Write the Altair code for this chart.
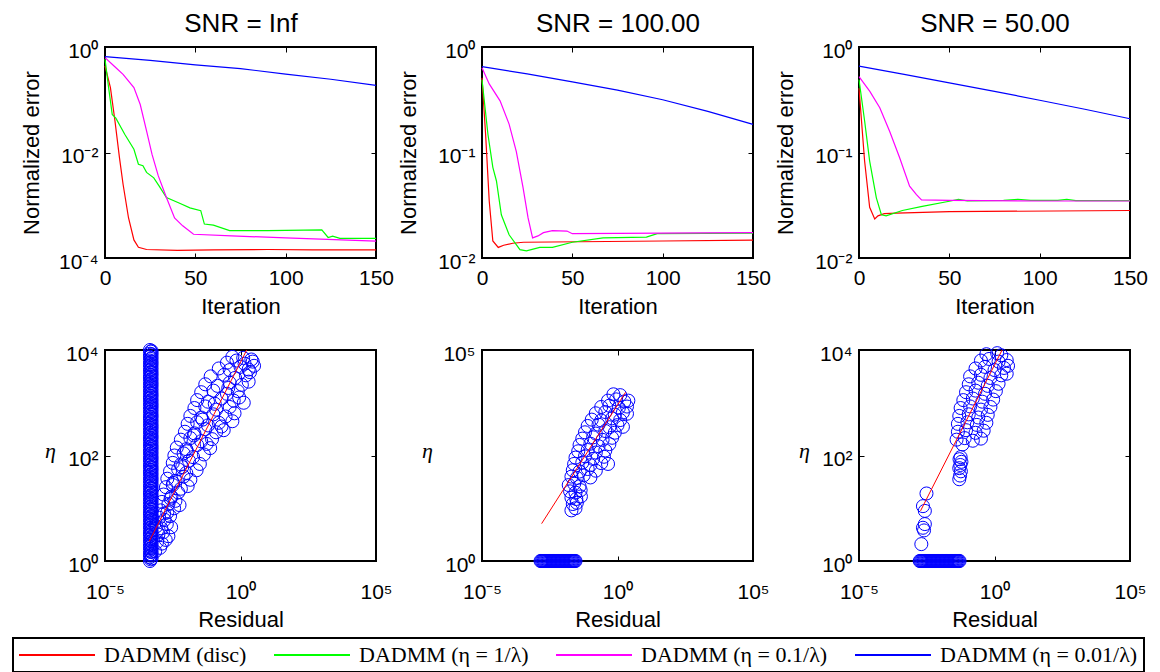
import altair as alt
import pandas as pd

SANS = "Liberation Sans"
SERIF = "Liberation Serif"

METHODS = ["DADMM (disc)", "DADMM (η = 1/λ)", "DADMM (η = 0.1/λ)", "DADMM (η = 0.01/λ)"]
COLORS = ["#ff0000", "#00ff00", "#ff00ff", "#0000ff"]
PANEL_TITLES = ["SNR = Inf", "SNR = 100.00", "SNR = 50.00"]

# ---------------- top row: normalized error vs iteration ----------------
# SNR = Inf
inf_disc_it = [0, 3, 5.5, 8, 10, 13, 16, 18.5, 23, 40, 60, 90, 115, 150]
inf_disc_err = [0.44, 0.17, 0.04, 0.008, 0.0025, 5.8e-4, 2.2e-4, 1.6e-4, 1.45e-4, 1.4e-4, 1.42e-4, 1.45e-4, 1.42e-4, 1.42e-4]
inf_eta1_it = [0, 2, 4, 6, 11, 16, 18.5, 21, 23, 27, 30, 34, 41, 47, 53, 55, 60, 69, 90, 120, 123.5, 126, 130, 150]
inf_eta1_err = [0.59, 0.17, 0.0525, 0.0447, 0.0219, 0.0115, 0.006, 0.0056, 0.0042, 0.0033, 0.0023, 0.0014, 0.0011,
                8.9e-4, 7.9e-4, 4.4e-4, 4.2e-4, 3.3e-4, 3.3e-4, 3.4e-4, 2.45e-4, 2.6e-4, 2.35e-4, 2.35e-4]
inf_eta01_it = [0, 5, 10, 16, 19.5, 23, 26, 29.5, 34, 38.5, 43, 49, 70, 100, 150]
inf_eta01_err = [0.63, 0.437, 0.302, 0.17, 0.0813, 0.0257, 0.0093, 0.0036, 0.0014, 5.75e-4, 4.07e-4, 2.82e-4,
                 2.63e-4, 2.4e-4, 2.09e-4]
inf_eta001_it = [0, 25, 50, 75, 100, 125, 150]
inf_eta001_err = [0.656, 0.56, 0.46, 0.39, 0.305, 0.245, 0.1875]

# SNR = 100
s100_disc_it = [0, 2, 4, 6, 9, 12, 17, 23, 100, 150]
s100_disc_err = [0.51, 0.148, 0.0347, 0.0145, 0.0126, 0.0132, 0.0138, 0.0141, 0.0145, 0.0148]
s100_eta1_it = [0, 3.3, 6, 8, 10.7, 15, 21, 24.6, 32, 39, 50, 67, 91, 97, 150]
s100_eta1_err = [0.49, 0.148, 0.0724, 0.0537, 0.0257, 0.0166, 0.012, 0.0117, 0.0126, 0.0126, 0.0141, 0.0155,
                 0.0158, 0.017, 0.0172]
s100_eta01_it = [0, 4, 10, 15, 19, 22.7, 25.5, 28, 31, 34, 39, 47, 50, 100, 150]
s100_eta01_err = [0.637, 0.447, 0.309, 0.186, 0.102, 0.0468, 0.024, 0.0155, 0.0162, 0.0174, 0.0182, 0.018,
                  0.017, 0.0172, 0.0174]
s100_eta001_it = [0, 25, 50, 75, 100, 125, 150]
s100_eta001_err = [0.652, 0.556, 0.468, 0.39, 0.316, 0.245, 0.185]

# SNR = 50
s50_disc_it = [0, 3.1, 5.9, 8.7, 10.5, 14, 20.7, 50, 150]
s50_disc_err = [0.407, 0.083, 0.0302, 0.0234, 0.0251, 0.0263, 0.0266, 0.0275, 0.0282]
s50_eta1_it = [0, 3.1, 5.9, 9.6, 12.4, 15, 24, 35, 50, 55, 60, 80, 88, 95, 110, 115, 120, 150]
s50_eta1_err = [0.49, 0.2, 0.083, 0.0372, 0.0257, 0.0251, 0.0282, 0.0309, 0.0345, 0.036, 0.0348, 0.0352, 0.036,
                0.0351, 0.0352, 0.036, 0.035, 0.035]
s50_eta01_it = [0, 6, 11.5, 17, 22.5, 28, 31.8, 34.6, 50, 100, 150]
s50_eta01_err = [0.525, 0.38, 0.266, 0.158, 0.0891, 0.0479, 0.0398, 0.0355, 0.0351, 0.0347, 0.0347]
s50_eta001_it = [0, 25, 50, 75, 100, 125, 150]
s50_eta001_err = [0.66, 0.55, 0.457, 0.38, 0.313, 0.257, 0.209]

# ---------------- bottom row: eta vs residual (log10 exponents) ----------------
# SNR = Inf: dense vertical column + diagonal band
inf_col_res = [-3.34, -3.31, -3.28]
inf_colA_eta = [0.00, 0.07, 0.13, 0.20, 0.27, 0.33, 0.40, 0.47, 0.53, 0.60, 0.67, 0.73, 0.80, 0.87, 0.93, 1.00,
                1.07, 1.13, 1.20, 1.27, 1.33, 1.40, 1.47, 1.53, 1.60, 1.67, 1.73, 1.80, 1.87, 1.93, 2.00, 2.07,
                2.13, 2.20, 2.27, 2.33, 2.40, 2.47, 2.53, 2.60, 2.67, 2.73, 2.80, 2.87, 2.93, 3.00, 3.07, 3.13,
                3.20, 3.27, 3.33, 3.40, 3.47, 3.53, 3.60, 3.67, 3.73, 3.80, 3.87, 3.93, 4.00]
inf_colB_eta = [0.03, 0.10, 0.17, 0.23, 0.30, 0.37, 0.43, 0.50, 0.57, 0.63, 0.70, 0.77, 0.83, 0.90, 0.97, 1.03,
                1.10, 1.17, 1.23, 1.30, 1.37, 1.43, 1.50, 1.57, 1.63, 1.70, 1.77, 1.83, 1.90, 1.97, 2.03, 2.10,
                2.17, 2.23, 2.30, 2.37, 2.43, 2.50, 2.57, 2.63, 2.70, 2.77, 2.83, 2.90, 2.97, 3.03, 3.10, 3.17,
                3.23, 3.30, 3.37, 3.43, 3.50, 3.57, 3.63, 3.70, 3.77, 3.83, 3.90, 3.97]
inf_colC_eta = [0.05, 0.12, 0.18, 0.25, 0.32, 0.38, 0.45, 0.52, 0.58, 0.65, 0.72, 0.78, 0.85, 0.92, 0.98, 1.05,
                1.12, 1.18, 1.25, 1.32, 1.38, 1.45, 1.52, 1.58, 1.65, 1.72, 1.78, 1.85, 1.92, 1.98, 2.05, 2.12,
                2.18, 2.25, 2.32, 2.38, 2.45, 2.52, 2.58, 2.65, 2.72, 2.78, 2.85, 2.92, 2.98, 3.05, 3.12, 3.18,
                3.25, 3.32, 3.38, 3.45, 3.52, 3.58, 3.65, 3.72, 3.78, 3.85, 3.92, 3.98]
inf_band_res = [-3.15, -2.97, -3.08, -2.9, -2.76, -3.03, -2.86, -2.66, -3.1, -2.92, -2.72, -2.56, -3.0, -2.8, -2.6,
                -2.95, -2.7, -2.45, -2.9, -2.66, -2.4, -2.25, -2.84, -2.55, -2.3, -2.75, -2.5, -2.2, -1.95, -2.7,
                -2.4, -2.1, -1.85, -2.6, -2.3, -2.0, -1.62, -2.5, -2.2, -1.9, -1.5, -2.44, -2.1, -1.75, -1.35,
                -2.35, -2.0, -1.6, -1.12, -2.2, -1.85, -1.45, -1.05, -2.05, -1.7, -1.3, -0.9, -0.62, -1.95, -1.6,
                -1.2, -0.8, -1.85, -1.45, -1.0, -0.55, -0.22, -1.7, -1.3, -0.9, -0.4, -1.6, -1.2, -0.7, -0.25,
                -0.05, -1.45, -1.0, -0.5, -0.1, -1.3, -0.85, -0.4, 0.05, 0.3, -1.1, -0.6, -0.2, 0.2, -0.8, -0.4,
                0.0, 0.3, 0.5, -0.5, -0.15, 0.15, 0.45, -0.3, 0.1, 0.4,
                -2.82, -2.58, -2.48, -2.15, -1.98, -1.72, -1.4, -1.25, -0.95, -0.7, -0.45, -0.3, 0.12, 0.35]
inf_band_eta = [0.18, 0.25, 0.36, 0.33, 0.4, 0.5, 0.54, 0.47, 0.66, 0.62, 0.7, 0.64, 0.82, 0.78, 0.85,
                0.96, 0.92, 1.0, 1.12, 1.08, 1.14, 1.06, 1.26, 1.22, 1.3, 1.4, 1.44, 1.37, 1.42, 1.56,
                1.52, 1.6, 1.54, 1.7, 1.74, 1.67, 1.72, 1.86, 1.83, 1.9, 1.84, 2.0, 2.04, 1.97, 2.02,
                2.15, 2.12, 2.2, 2.14, 2.3, 2.33, 2.27, 2.31, 2.45, 2.42, 2.5, 2.44, 2.48, 2.6, 2.63,
                2.57, 2.62, 2.75, 2.72, 2.78, 2.74, 2.8, 2.9, 2.93, 2.87, 2.92, 3.05, 3.02, 3.08, 3.04,
                3.1, 3.2, 3.23, 3.17, 3.22, 3.35, 3.32, 3.38, 3.34, 3.4, 3.5, 3.53, 3.47, 3.52, 3.65, 3.62,
                3.68, 3.63, 3.7, 3.76, 3.8, 3.74, 3.78, 3.87, 3.85, 3.82,
                0.9, 1.18, 1.48, 1.78, 2.08, 2.38, 2.68, 2.22, 2.98, 2.55, 3.28, 2.65, 3.0, 3.58]
inf_fit_res = [-3.37, 0.23]
inf_fit_eta = [0.37, 4.0]

# SNR = 100: horizontal bar at eta = 1 + cluster
s100_bar_res = [-2.84, -2.81, -2.78, -2.75, -2.72, -2.69, -2.66, -2.63, -2.6, -2.57, -2.54, -2.51, -2.48, -2.45,
                -2.42, -2.39, -2.36, -2.33, -2.3, -2.27, -2.24, -2.21, -2.18, -2.15, -2.12, -2.09, -2.06, -2.03,
                -2.0, -1.97, -1.94, -1.91, -1.88, -1.85, -1.82, -1.79, -1.76, -1.73, -1.7, -1.67, -1.64, -1.61,
                -1.58, -1.55]
s100_cl_res = [-1.7, -1.55, -1.65, -1.5, -1.7, -1.52, -1.35, -1.75, -1.55, -1.36, -1.8, -1.6, -1.4, -1.7, -1.5,
               -1.25, -1.0, -1.65, -1.4, -1.1, -0.8, -1.6, -1.3, -1.0, -0.6, -0.35, -1.55, -1.2, -0.9, -0.5,
               -1.45, -1.1, -0.8, -0.45, -1.4, -1.0, -0.7, -0.3, -1.3, -0.9, -0.55, -0.2, -1.2, -0.8, -0.45,
               -0.1, -1.1, -0.7, -0.3, 0.0, 0.2, -0.95, -0.6, -0.2, 0.1, -0.8, -0.45, -0.1, 0.2, 0.35, -0.6,
               -0.3, 0.05, 0.35, -0.35, -0.05, 0.25, 0.4, -0.15, 0.1]
s100_cl_eta = [1.2, 1.25, 1.35, 1.38, 1.5, 1.47, 1.53, 1.65, 1.62, 1.68, 1.8, 1.83, 1.77, 2.0, 1.97,
               2.03, 1.98, 2.15, 2.12, 2.18, 2.14, 2.3, 2.33, 2.27, 2.32, 2.3, 2.45, 2.48, 2.42, 2.47,
               2.6, 2.63, 2.57, 2.62, 2.75, 2.78, 2.72, 2.77, 2.9, 2.93, 2.87, 2.92, 3.05, 3.02, 3.08,
               3.04, 3.2, 3.23, 3.17, 3.22, 3.18, 3.35, 3.33, 3.38, 3.34, 3.5, 3.53, 3.47, 3.52, 3.49, 3.65,
               3.68, 3.63, 3.66, 3.8, 3.83, 3.78, 3.8, 3.95, 3.93]
s100_fit_res = [-2.8, 0.3]
s100_fit_eta = [0.885, 4.0]

# SNR = 50: horizontal bar + sparse points + clusters
s50_bar_res = [-2.76, -2.73, -2.70, -2.67, -2.64, -2.61, -2.58, -2.55, -2.52, -2.49, -2.46, -2.43, -2.40, -2.37,
               -2.34, -2.31, -2.28, -2.25, -2.22, -2.19, -2.16, -2.13, -2.10, -2.07, -2.04, -2.01, -1.98, -1.95,
               -1.92, -1.89, -1.86, -1.83, -1.80, -1.77, -1.74, -1.71, -1.68, -1.65, -1.62, -1.59, -1.56, -1.53,
               -1.50, -1.47, -1.44, -1.41, -1.38, -1.35, -1.32, -1.29]
s50_cl_res = [-2.7, -2.64, -2.57, -2.6, -2.57, -2.64, -2.51,
              -1.3, -1.27, -1.24, -1.3, -1.26, -1.22, -1.29, -1.25, -1.18,
              -1.4, -1.1, -0.8, -0.5, -1.35, -1.05, -0.7, -0.4, -1.35, -1.0, -0.65, -0.3, -1.3, -0.95, -0.6,
              -0.25, -1.25, -0.9, -0.5, -0.15, -1.15, -0.8, -0.45, -0.05, -1.05, -0.7, -0.35, 0.05, -0.95,
              -0.6, -0.25, 0.15, -0.9, -0.5, -0.15, 0.25, 0.45, -0.7, -0.35, 0.0, 0.35, 0.5, -0.5, -0.2,
              0.15, 0.45, -0.3, 0.1, 0.25]
s50_cl_eta = [0.32, 0.63, 0.7, 0.58, 0.95, 1.04, 1.28,
              1.55, 1.62, 1.7, 1.76, 1.82, 1.88, 1.93, 1.97, 2.21,
              2.3, 2.33, 2.28, 2.32, 2.45, 2.48, 2.43, 2.47, 2.6, 2.63, 2.58, 2.62, 2.75, 2.78, 2.72,
              2.77, 2.9, 2.93, 2.87, 2.92, 3.05, 3.08, 3.02, 3.06, 3.2, 3.23, 3.17, 3.22, 3.35,
              3.38, 3.32, 3.36, 3.5, 3.53, 3.47, 3.52, 3.55, 3.65, 3.68, 3.62, 3.66, 3.7, 3.8, 3.83,
              3.78, 3.81, 3.92, 3.94, 3.9]
s50_fit_res = [-2.73, 0.28]
s50_fit_eta = [0.95, 4.0]

SUP = {"-": "⁻", "0": "⁰", "1": "¹", "2": "²", "3": "³", "4": "⁴", "5": "⁵"}


def pow10_labels(exps):
    e = "round(log(datum.value) / LN10)"
    expr = "''"
    for k in exps:
        s = "".join(SUP[c] for c in str(k))
        expr = f"({e} == {k} ? '10{s}' : {expr})"
    return expr


TICK = dict(offset=-5, tickSize=5, tickColor="black", tickWidth=1, domain=False, grid=False)


def axis_bottom(values, title, label_expr=None, label_pad=9, title_pad=8):
    kw = dict(orient="bottom", values=values, labelFont=SANS, labelFontSize=21, labelColor="black",
              labelPadding=label_pad, labelFlush=False, labelOverlap=False, title=title,
              titleFont=SANS, titleFontSize=22, titleFontWeight="normal", titleColor="black",
              titlePadding=title_pad, **TICK)
    if label_expr:
        kw["labelExpr"] = label_expr
    return alt.Axis(**kw)


def axis_left(values, exps, title, title_x, title_y, angle, font, style):
    return alt.Axis(orient="left", values=values, labelExpr=pow10_labels(exps), labelFont=SANS,
                    labelFontSize=21, labelColor="black", labelPadding=7, labelOffset=4, labelFlush=False,
                    labelOverlap=False, title=title, titleFont=font, titleFontSize=22,
                    titleFontWeight="normal", titleFontStyle=style, titleColor="black", titleAngle=angle,
                    titleAlign="center", titleBaseline="middle", titleX=title_x, titleY=title_y, **TICK)


def axis_mirror(orient, values):
    return alt.Axis(orient=orient, values=values, labels=False, **TICK)


def axis_top_title(values, text):
    # mirrored top ticks; the panel heading is carried as this axis' title
    return alt.Axis(orient="top", values=values, labels=False, title=text, titleFont=SANS, titleFontSize=26,
                    titleFontWeight="normal", titleColor="black", titleAngle=0, titleAlign="center",
                    titleBaseline="alphabetic", titleX=135.5, titleY=-21, **TICK)


LEGEND = alt.Legend(title=None, orient="none", legendX=-92, legendY=591, direction="horizontal",
                    symbolType="M-4,0H4", symbolSize=361, symbolStrokeWidth=2, symbolOffset=27,
                    labelOffset=36, labelFont=SERIF, labelFontSize=22, labelColor="black", labelLimit=400,
                    columnPadding=23, padding=6, strokeColor="black", fillColor="white")


def top_panel(series, ydom, yvals, yexps, title):
    rows = []
    for m, (its, vals) in zip(METHODS, series):
        for i, v in zip(its, vals):
            rows.append({"iter": i, "err": v, "method": m})
    df = pd.DataFrame(rows)
    xs = alt.Scale(domain=[0, 150], nice=False, zero=False)
    ys = alt.Scale(type="log", domain=ydom, nice=False)
    base = alt.Chart(df)
    lines = base.mark_line(strokeWidth=1.2).encode(
        x=alt.X("iter:Q", scale=xs, axis=axis_bottom([0, 50, 100, 150], "Iteration")),
        y=alt.Y("err:Q", scale=ys,
                axis=axis_left(yvals, yexps, "Normalized error", -79, 105.5, 270, SANS, "normal")),
        color=alt.Color("method:N", scale=alt.Scale(domain=METHODS, range=COLORS), legend=LEGEND),
    )
    mirror = base.mark_line(opacity=0).encode(
        x=alt.X("iter:Q", scale=xs, axis=axis_top_title([0, 50, 100, 150], title)),
        y=alt.Y("err:Q", scale=ys, axis=axis_mirror("right", yvals), title=None),
        detail="method:N",
    )
    return alt.layer(lines, mirror).resolve_axis(x="independent", y="independent").properties(
        width=271, height=211)


def bottom_panel(pt_res, pt_eta, fit_res, fit_eta, ydom, yvals, yexps):
    pts = pd.DataFrame({"res": [10 ** r for r in pt_res], "eta": [10 ** e for e in pt_eta]})
    fit = pd.DataFrame({"res": [10 ** r for r in fit_res], "eta": [10 ** e for e in fit_eta]})
    xs = alt.Scale(type="log", domain=[1e-5, 1e5], nice=False)
    ys = alt.Scale(type="log", domain=ydom, nice=False)
    xvals = [1e-5, 1, 1e5]
    circles = alt.Chart(pts).mark_point(shape="circle", filled=False, size=170, strokeWidth=1,
                                        color="#0000ff", opacity=1).encode(
        x=alt.X("res:Q", scale=xs,
                axis=axis_bottom(xvals, "Residual", pow10_labels([-5, 0, 5]), label_pad=20, title_pad=7)),
        y=alt.Y("eta:Q", scale=ys, axis=axis_left(yvals, yexps, "η", -60, 100, 0, SERIF, "italic")),
    )
    line = alt.Chart(fit).mark_line(color="#ff0000", strokeWidth=1).encode(
        x=alt.X("res:Q", scale=xs, axis=None),
        y=alt.Y("eta:Q", scale=ys, axis=None),
    )
    mirror = alt.Chart(pts).mark_point(opacity=0).encode(
        x=alt.X("res:Q", scale=xs, axis=axis_mirror("top", xvals), title=None),
        y=alt.Y("eta:Q", scale=ys, axis=axis_mirror("right", yvals), title=None),
    )
    return alt.layer(circles, line, mirror).resolve_axis(x="independent", y="independent").properties(
        width=271, height=211)


tops = [
    top_panel([(inf_disc_it, inf_disc_err), (inf_eta1_it, inf_eta1_err), (inf_eta01_it, inf_eta01_err),
               (inf_eta001_it, inf_eta001_err)], [1e-4, 1], [1e-4, 1e-2, 1], [-4, -2, 0], PANEL_TITLES[0]),
    top_panel([(s100_disc_it, s100_disc_err), (s100_eta1_it, s100_eta1_err), (s100_eta01_it, s100_eta01_err),
               (s100_eta001_it, s100_eta001_err)], [1e-2, 1], [1e-2, 1e-1, 1], [-2, -1, 0], PANEL_TITLES[1]),
    top_panel([(s50_disc_it, s50_disc_err), (s50_eta1_it, s50_eta1_err), (s50_eta01_it, s50_eta01_err),
               (s50_eta001_it, s50_eta001_err)], [1e-2, 1], [1e-2, 1e-1, 1], [-2, -1, 0], PANEL_TITLES[2]),
]

inf_res = ([inf_col_res[0]] * len(inf_colA_eta) + [inf_col_res[1]] * len(inf_colB_eta)
           + [inf_col_res[2]] * len(inf_colC_eta) + inf_band_res)
inf_eta = inf_colA_eta + inf_colB_eta + inf_colC_eta + inf_band_eta
s100_res = s100_bar_res + s100_cl_res
s100_eta = [0.0] * len(s100_bar_res) + s100_cl_eta
s50_res = s50_bar_res + s50_cl_res
s50_eta = [0.0] * len(s50_bar_res) + s50_cl_eta

bots = [
    bottom_panel(inf_res, inf_eta, inf_fit_res, inf_fit_eta, [1, 1e4], [1, 1e2, 1e4], [0, 2, 4]),
    bottom_panel(s100_res, s100_eta, s100_fit_res, s100_fit_eta, [1, 1e5], [1, 1e5], [0, 5]),
    bottom_panel(s50_res, s50_eta, s50_fit_res, s50_fit_eta, [1, 1e4], [1, 1e2, 1e4], [0, 2, 4]),
]

chart = alt.concat(*(tops + bots), columns=3, spacing={"row": 92, "column": 106}, bounds="flush").properties(
    padding={"left": 12, "top": 9, "right": 3, "bottom": 0},
    background="white",
).configure_view(stroke="black", strokeWidth=2).configure_legend(strokeWidth=2)

chart.save("out.html", embed_options={"renderer": "svg", "actions": False})
